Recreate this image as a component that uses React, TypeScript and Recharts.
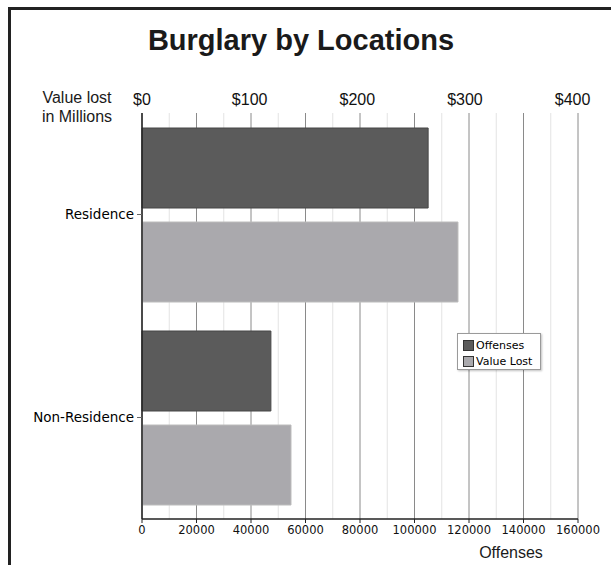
import React from 'react';
import { BarChart, Bar, XAxis, YAxis, CartesianGrid, Legend } from 'recharts';

const categories = ['Residence', 'Non-Residence'];
const offenses = [105000, 47300];
const valueLost = [293.5, 138.4];
const offenseDomain = [0, 160000];
const offenseTicks = [0, 20000, 40000, 60000, 80000, 100000, 120000, 140000, 160000];
const minorTicks = [10000, 30000, 50000, 70000, 90000, 110000, 130000, 150000];
const valueTicks = [0, 100, 200, 300, 400];
const seriesNames = ['Offenses', 'Value Lost'];
const seriesColors = ['#5b5b5b', '#aaa9ad'];

const data = categories.map((name, i) => ({ name, offenses: offenses[i], valueLost: valueLost[i] }));

const renderLegend = (props: any) => {
  const payload = props.payload || [];
  return (
    <div
      style={{
        background: '#fff',
        border: '1px solid #9a9a9a',
        boxShadow: '1px 1px 2px rgba(0,0,0,0.25)',
        padding: '3px 4px 0 5px',
        boxSizing: 'border-box',
      }}
    >
      {payload.map((p: any, i: number) => (
        <div key={i} style={{ display: 'flex', alignItems: 'center', height: 16 }}>
          <span
            style={{
              display: 'inline-block',
              width: 9,
              height: 9,
              background: p.color,
              border: '1px solid #333',
              marginRight: 2,
            }}
          />
          <span style={{ fontFamily: '"DejaVu Sans", sans-serif', fontSize: 11, color: '#000' }}>{p.value}</span>
        </div>
      ))}
    </div>
  );
};

const minorGenerator = (props: any) => {
  const axis = props && props.xAxis;
  if (axis && typeof axis.scale === 'function') {
    return minorTicks.map((v) => axis.scale(v));
  }
  const off = props && props.offset;
  if (!off) return [];
  const [d0, d1] = offenseDomain;
  return minorTicks.map((v) => off.left + ((v - d0) / (d1 - d0)) * off.width);
};

export default function App() {
  return (
    <div style={{ position: 'absolute', left: 0, top: 0, width: 611, height: 565, overflow: 'hidden', background: '#fff' }}>
      <div
        style={{
          position: 'absolute',
          left: 8,
          top: 7,
          width: 620,
          height: 570,
          borderTop: '3px solid #222',
          borderLeft: '3px solid #222',
        }}
      />
      <div
        style={{
          position: 'absolute',
          left: 0,
          top: 26,
          width: 602,
          textAlign: 'center',
          fontFamily: '"Liberation Sans", Arial, sans-serif',
          fontWeight: 'bold',
          fontSize: 29,
          lineHeight: '29px',
          color: '#1a1a1a',
        }}
      >
        Burglary by Locations
      </div>
      <div
        style={{
          position: 'absolute',
          left: 27,
          top: 88,
          width: 100,
          textAlign: 'center',
          fontFamily: '"Liberation Sans", Arial, sans-serif',
          fontSize: 16,
          lineHeight: '19px',
          color: '#1a1a1a',
        }}
      >
        Value lost
        <br />
        in Millions
      </div>
      <div
        style={{
          position: 'absolute',
          left: 461,
          top: 543,
          width: 100,
          textAlign: 'center',
          fontFamily: '"Liberation Sans", Arial, sans-serif',
          fontSize: 16,
          lineHeight: '19px',
          color: '#1a1a1a',
        }}
      >
        Offenses
      </div>
      <div style={{ position: 'absolute', left: 0, top: 0 }}>
        <BarChart
          width={611}
          height={565}
          data={data}
          layout="vertical"
          margin={{ top: 83, left: 12, right: 33, bottom: 16 }}
          barCategoryGap={15}
          barGap={14}
        >
          <CartesianGrid
            xAxisId="off"
            horizontal={false}
            stroke="#e3e3e3"
            strokeWidth={1}
            verticalCoordinatesGenerator={minorGenerator}
          />
          <CartesianGrid xAxisId="off" horizontal={false} stroke="#8a8a8a" strokeWidth={1} />
          <XAxis
            xAxisId="off"
            type="number"
            orientation="bottom"
            domain={offenseDomain}
            ticks={offenseTicks}
            interval={0}
            height={30}
            tickSize={4}
            tickMargin={3}
            axisLine={{ stroke: '#222', strokeWidth: 1.5 }}
            tickLine={{ stroke: '#222' }}
            tick={{ fontFamily: '"DejaVu Sans", sans-serif', fontSize: 11.5, fill: '#111' }}
          />
          <XAxis
            xAxisId="value"
            type="number"
            orientation="top"
            domain={[0, 405]}
            ticks={valueTicks}
            interval={0}
            height={30}
            tickSize={0}
            tickMargin={8}
            axisLine={false}
            tickLine={false}
            tickFormatter={(v: number) => `$${v}`}
            tick={{ fontFamily: '"Liberation Sans", Arial, sans-serif', fontSize: 16, fill: '#111' }}
          />
          <YAxis
            type="category"
            dataKey="name"
            width={130}
            tickSize={5}
            tickMargin={3}
            axisLine={{ stroke: '#222', strokeWidth: 1.5 }}
            tickLine={{ stroke: '#666' }}
            tick={{ fontFamily: '"DejaVu Sans", sans-serif', fontSize: 13.5, fill: '#000' }}
          />
          <Bar
            xAxisId="off"
            dataKey="offenses"
            name={seriesNames[0]}
            fill={seriesColors[0]}
            stroke="#474747"
            strokeWidth={1}
            isAnimationActive={false}
          />
          <Bar
            xAxisId="value"
            dataKey="valueLost"
            name={seriesNames[1]}
            fill={seriesColors[1]}
            stroke="#bcbcbc"
            strokeWidth={1}
            isAnimationActive={false}
          />
          <Legend
            layout="vertical"
            align="center"
            verticalAlign="middle"
            content={renderLegend}
            wrapperStyle={{ position: 'absolute', left: 457, top: 333, width: 84 }}
          />
        </BarChart>
      </div>
    </div>
  );
}
